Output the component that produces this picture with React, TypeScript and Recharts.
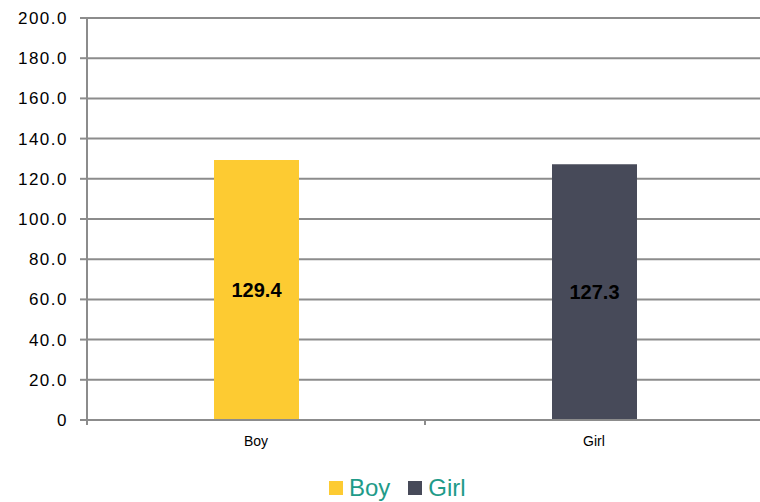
import React from 'react';
import {
  BarChart,
  Bar,
  XAxis,
  YAxis,
  CartesianGrid,
  Legend,
  LabelList,
  Cell,
} from 'recharts';

// values
const categories = ['Boy', 'Girl'];
const heights = [129.4, 127.3];
const barColors = ['#FDCB32', '#474A59'];
const yTicks = [0, 20, 40, 60, 80, 100, 120, 140, 160, 180, 200];

const data = categories.map((name, i) => ({ name, value: heights[i] }));

const GRID = '#8C8C8C';
const FONT = '"Liberation Sans", Arial, sans-serif';

// category tick: label in the middle, tick marks on the band edges (Excel style)
const CategoryTick = (props: any) => {
  const { x, y, payload } = props;
  const half = payload.offset || 0;
  const axisY = y - 16;
  return (
    <g>
      <line x1={x - half} x2={x - half} y1={axisY} y2={axisY + 5} stroke={GRID} strokeWidth={2} />
      <line x1={x + half} x2={x + half} y1={axisY} y2={axisY + 5} stroke={GRID} strokeWidth={2} />
      <text x={x} y={y} dy="0.71em" textAnchor="middle" fill="#000" fontSize={14} fontFamily={FONT}>
        {payload.value}
      </text>
    </g>
  );
};

const LegendBox = () => (
  <div
    style={{
      height: 28,
      display: 'flex',
      alignItems: 'center',
      paddingLeft: 329,
      fontFamily: FONT,
      fontSize: 24,
      color: '#1F9B89',
    }}
  >
    {categories.map((name, i) => (
      <div key={name} style={{ display: 'flex', alignItems: 'center', marginRight: 18 }}>
        <span style={{ width: 14, height: 14, background: barColors[i], marginRight: 6 }} />
        <span style={{ lineHeight: '28px' }}>{name}</span>
      </div>
    ))}
  </div>
);

const App: React.FC = () => {
  return (
    <div style={{ position: 'absolute', left: 0, top: 0, width: 760, height: 502, overflow: 'hidden', background: '#fff' }}>
      <BarChart
        width={763}
        height={502}
        data={data}
        margin={{ top: 18, right: 0, left: 0, bottom: 0 }}
        barCategoryGap={0}
      >
        <CartesianGrid horizontal vertical={false} stroke={GRID} strokeWidth={2} />
        <XAxis
          dataKey="name"
          height={54}
          axisLine={{ stroke: GRID, strokeWidth: 2 }}
          tickLine={false}
          tickSize={6}
          tickMargin={10}
          tick={<CategoryTick />}
        />
        <YAxis
          width={87}
          domain={[0, 200]}
          ticks={yTicks}
          interval={0}
          axisLine={{ stroke: GRID, strokeWidth: 2 }}
          tickLine={{ stroke: GRID, strokeWidth: 2 }}
          tickSize={7}
          tickMargin={12}
          tickFormatter={(v: number) => (v === 0 ? '0' : v.toFixed(1))}
          tick={{ fill: '#000', fontSize: 17, fontFamily: FONT, letterSpacing: 1.5 }}
        />
        <Legend verticalAlign="bottom" content={() => <LegendBox />} />
        <Bar dataKey="value" barSize={85} isAnimationActive={false}>
          {data.map((d, i) => (
            <Cell key={d.name} fill={barColors[i]} />
          ))}
          <LabelList
            dataKey="value"
            position="center"
            formatter={(v: number) => v.toFixed(1)}
            style={{ fill: '#000', fontSize: 20, fontWeight: 'bold', fontFamily: FONT }}
          />
        </Bar>
      </BarChart>
    </div>
  );
};

export default App;
